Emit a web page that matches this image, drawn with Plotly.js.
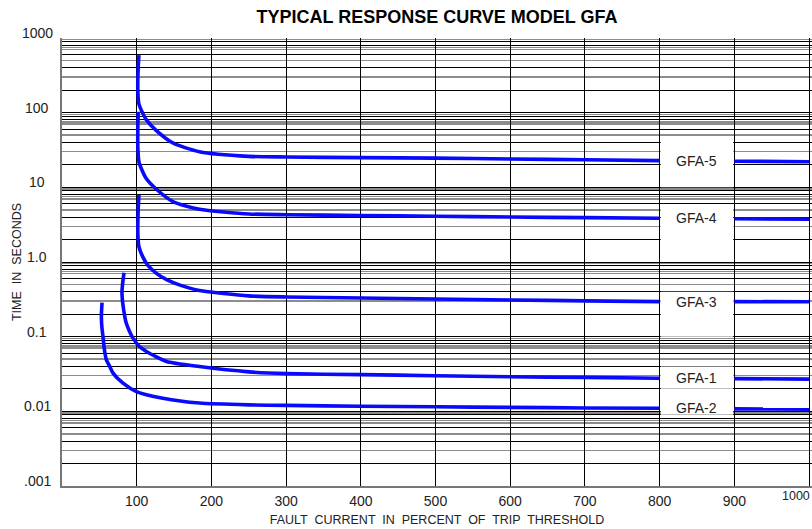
<!DOCTYPE html>
<html>
<head>
<meta charset="utf-8">
<script src="https://cdn.plot.ly/plotly-3.0.1.min.js"></script>
<style>
  html, body { margin: 0; padding: 0; background: #ffffff; }
  #chart { width: 812px; height: 529px; }
</style>
</head>
<body>
<div id="chart"></div>
<script>
// ---- data (x = % of trip threshold, y = seconds) ----
const seriesNames = ['GFA-5', 'GFA-4', 'GFA-3', 'GFA-1', 'GFA-2'];

const gfa5X = [103, 102, 101.5, 103, 106, 113, 126, 149, 184, 250, 300, 400, 500, 600, 700, 800, null, 900, 1000];
const gfa5Y = [590, 400, 200, 130, 109, 80, 58, 39, 30, 26, 25.5, 25, 24.6, 24, 23.4, 22.8, null, 22.4, 22];

const gfa4X = [102, 101.5, 101.5, 103, 106, 113, 126, 149, 184, 250, 300, 400, 500, 600, 700, 800, null, 900, 1000];
const gfa4Y = [103, 60, 35, 22, 18, 13, 9.5, 6.4, 5.1, 4.4, 4.3, 4.2, 4.1, 4.0, 3.93, 3.86, null, 3.8, 3.75];

const gfa3X = [103, 102, 101.5, 103, 108, 115, 126, 140, 158, 184, 250, 300, 400, 500, 600, 700, 800, null, 900, 1000];
const gfa3Y = [7.9, 5, 2.5, 1.6, 1.18, 0.9, 0.71, 0.58, 0.49, 0.414, 0.352, 0.34, 0.33, 0.32, 0.31, 0.302, 0.295, null, 0.295, 0.293];

const gfa1X = [83, 81, 80.3, 82, 86, 90, 95, 103, 113, 140, 184, 250, 300, 400, 500, 600, 700, 800, null, 900, 1000];
const gfa1Y = [0.72, 0.5, 0.38, 0.25, 0.152, 0.12, 0.0955, 0.075, 0.0633, 0.0465, 0.0398, 0.0338, 0.032, 0.031, 0.030, 0.029, 0.0285, 0.0278, null, 0.0274, 0.027];

const gfa2X = [53.6, 52.7, 53.5, 54.9, 56.5, 59.4, 63.9, 68.3, 81.7, 99.6, 135, 184, 250, 300, 400, 500, 600, 700, 800, null, 900, 1000];
const gfa2Y = [0.286, 0.186, 0.13, 0.1, 0.07, 0.049, 0.04, 0.0325, 0.0238, 0.0184, 0.015, 0.0129, 0.0122, 0.012, 0.0117, 0.0115, 0.0113, 0.0111, 0.011, null, 0.0108, 0.0107];

// ---- axis ticks ----
const xTickVals = [100, 200, 300, 400, 500, 600, 700, 800, 900, 1000];
const xTickText = ['100', '200', '300', '400', '500', '600', '700', '800', '900', ''];
const xLastTickText = '1000';
const yDecades = [0.001, 0.01, 0.1, 1, 10, 100, 1000];
const yDecadeText = ['.001', '0.01', '0.1', '1.0', '10', '100', '1000'];
const blackMultipliers = [2, 4, 6, 8, 9];
const grayMultipliers = [3, 5, 7, 7.5, 9.5];

// ---- label boxes (value ranges covered by the white boxes between 800 and 900) ----
const labelBoxLow  = [10, 1, 0.1, 0.02, 0.009];
const labelBoxHigh = [46, 6, 0.4, 0.04, 0.0195];

const xs = [gfa5X, gfa4X, gfa3X, gfa1X, gfa2X];
const ys = [gfa5Y, gfa4Y, gfa3Y, gfa1Y, gfa2Y];

const FONT = 'Liberation Sans, Arial, sans-serif';

// build grid tick arrays
const majorVals = [];
yDecades.forEach(d => {
  majorVals.push(d);
  if (d < 1000) blackMultipliers.forEach(m => majorVals.push(d * m));
});
const minorVals = [];
yDecades.forEach(d => { if (d < 1000) grayMultipliers.forEach(m => minorVals.push(d * m)); });

const blue = 'rgb(10,10,250)';
const traces = seriesNames.map((n, i) => ({
  type: 'scatter', mode: 'lines', name: n,
  x: xs[i], y: ys[i], connectgaps: false,
  line: { color: blue, width: 3.6, shape: 'spline', smoothing: 0.6 },
  hoverinfo: 'skip'
}));

const shapes = seriesNames.map((n, i) => ({
  type: 'rect', xref: 'x', yref: 'y', layer: 'between',
  x0: 801.5, x1: 898.5, y0: labelBoxLow[i], y1: labelBoxHigh[i],
  fillcolor: '#ffffff', line: { width: 0 }
}));

const annotations = seriesNames.map((n, i) => {
  const k = xs[i].indexOf(800);
  return {
    xref: 'x', yref: 'y', x: 850, y: Math.log10(ys[i][k]),
    text: n, showarrow: false, xanchor: 'center', yanchor: 'middle',
    font: { family: FONT, size: 14, color: '#222' }
  };
});

// y tick labels (centered in the left margin, sitting just above their decade line)
yDecades.forEach((d, i) => {
  annotations.push({
    xref: 'paper', yref: 'y', x: -25 / 750, y: Math.log10(d),
    text: yDecadeText[i], showarrow: false, xanchor: 'center', yanchor: 'middle',
    yshift: 5, font: { family: FONT, size: 14, color: '#222' }
  });
});
// last x tick label, squeezed against the right edge as in the reference
annotations.push({
  xref: 'paper', yref: 'paper', x: 1, y: 0, xanchor: 'right', yanchor: 'top',
  yshift: -1, text: xLastTickText, showarrow: false,
  font: { family: FONT, size: 12.5, color: '#222' }
});

const layout = {
  width: 812, height: 529,
  margin: { l: 62, r: 0, t: 38, b: 43 },
  paper_bgcolor: '#ffffff', plot_bgcolor: '#ffffff',
  showlegend: false,
  title: {
    text: 'TYPICAL RESPONSE CURVE MODEL GFA',
    x: 437 / 812, xanchor: 'center', xref: 'container',
    y: 1 - 17 / 529, yanchor: 'middle', yref: 'container',
    font: { family: FONT, size: 18, weight: 'bold', color: '#000' }
  },
  xaxis: {
    range: [0, 1004], type: 'linear',
    tickmode: 'array', tickvals: xTickVals, ticktext: xTickText,
    showgrid: true, gridcolor: '#000', gridwidth: 1,
    zeroline: false, showline: true, linecolor: '#777', linewidth: 2,
    ticks: '', ticklabelstandoff: 1,
    tickfont: { family: FONT, size: 14, color: '#222' },
    title: {
      text: 'FAULT  CURRENT  IN  PERCENT  OF  TRIP  THRESHOLD',
      font: { family: FONT, size: 12.5, color: '#222' },
      standoff: 7
    }
  },
  yaxis: {
    type: 'log', range: [-3, 3],
    tickmode: 'array', tickvals: majorVals, showticklabels: false,
    showgrid: true, gridcolor: '#000', gridwidth: 1,
    minor: { tickmode: 'array', tickvals: minorVals, showgrid: true, gridcolor: 'rgb(140,140,140)', gridwidth: 1.5, ticks: '' },
    zeroline: false, showline: true, linecolor: '#777', linewidth: 2,
    ticks: '',
    title: {
      text: 'TIME  IN  SECONDS',
      font: { family: FONT, size: 12.5, color: '#222' },
      standoff: 36
    }
  },
  shapes: shapes,
  annotations: annotations
};

Plotly.newPlot('chart', traces, layout, { staticPlot: true, displayModeBar: false });
</script>
</body>
</html>
